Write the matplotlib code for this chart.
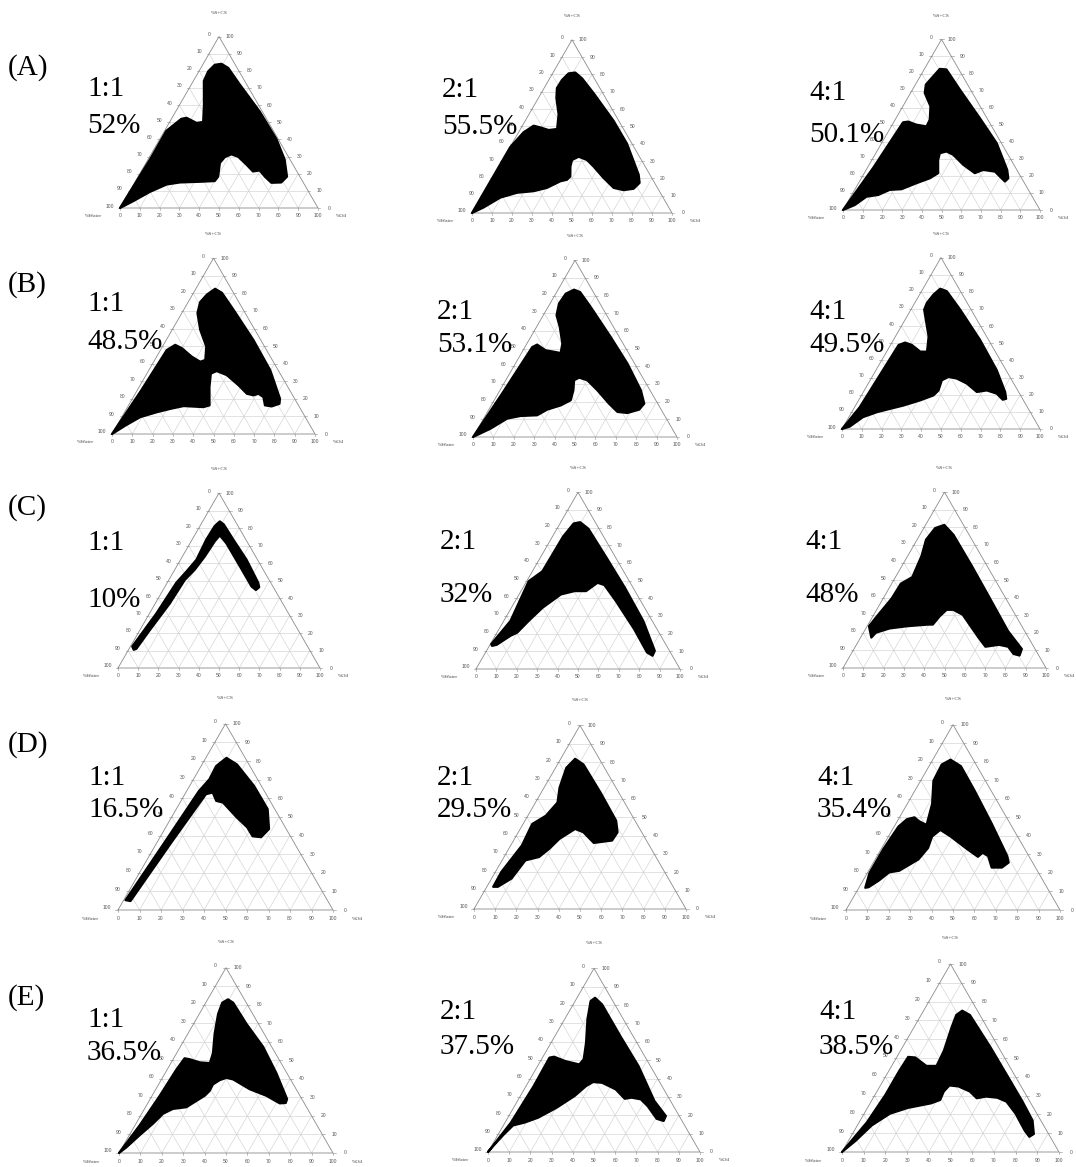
import numpy as np
import matplotlib
matplotlib.use("Agg")
import matplotlib.pyplot as plt

W, H = 1076, 1167

ROW_TAGS = ["(A)", "(B)", "(C)", "(D)", "(E)"]
RATIOS = ["1:1", "2:1", "4:1"]
AREA_PCT = [
    ["52%", "55.5%", "50.1%"],
    ["48.5%", "53.1%", "49.5%"],
    ["10%", "32%", "48%"],
    ["16.5%", "29.5%", "35.4%"],
    ["36.5%", "37.5%", "38.5%"],
]

# boundary of the microemulsion region, (%Oil, %S+CS) pairs
A1_REGION = [(0, 0), (1, 29), (0.9, 45), (5, 52), (7.3, 52.6), (13.9, 49.6), (16.9, 50.2),
             (12.3, 60.2), (5.3, 74.1), (4.7, 79.7), (6.1, 83.5), (9.2, 84.1), (13.8, 81.7),
             (24.4, 72.1), (42.5, 56.2), (58.9, 40.2), (69, 28.3), (75.2, 18.3), (74, 14.9),
             (69.1, 14.7), (64, 18.3), (59.6, 21.9), (56.5, 21.3), (51.2, 25.3), (44.7, 29.9),
             (40.6, 31.3), (38.1, 29.7), (37.3, 26.3), (40.4, 18.3), (40, 15.7), (32.7, 15.3),
             (22.8, 14.9), (16.7, 13.7), (10.4, 9.4), (4.7, 4)]
A2_REGION = [(0, 0), (0.1, 38.1), (2.5, 46.6), (5.6, 50.4), (9.5, 49.4), (14.4, 47.9), (18.3, 48.5),
             (14.8, 57), (9, 66.4), (6.4, 72.1), (6.6, 76.8), (8, 80.6), (11.1, 81.1), (16.2, 77.7),
             (26.2, 69.2), (44.2, 53.2), (57.5, 40), (72.3, 22.1), (75.1, 17.4), (73.8, 14),
             (69.2, 13.2), (63.6, 14.5), (55.7, 20.2), (47.4, 26.8), (42.2, 30.6), (37.1, 32.5),
             (34.7, 30.6), (35.8, 26.8), (38.6, 21.1), (37.9, 19.2), (35, 18.3), (30.2, 14.5),
             (24.5, 12.6), (16.7, 11.7), (9.7, 8.9), (4.2, 3.2)]
A3_REGION = [(0, 0), (3, 25), (4.8, 51.4), (7.2, 51.8), (12.3, 50), (17.9, 49), (17.6, 52.9),
             (14, 60.8), (7.2, 68.6), (5.3, 73.5), (6.6, 78.4), (7.8, 82.7), (11.3, 82.4),
             (24, 70.6), (42.5, 53.9), (58.4, 39.2), (71.6, 23.5), (74.6, 18.6), (73.9, 16.7),
             (71.2, 18.6), (65.9, 22.5), (59.4, 23.5), (56.1, 21.6), (47.8, 26.5), (39.7, 32.4),
             (35.4, 34.3), (32.5, 33.3), (33.6, 29.4), (37.5, 21.6), (34.8, 18.6), (29.4, 15.7),
             (23.6, 12.2), (17.8, 11.8), (13.4, 8.8), (8, 7.8), (4.5, 2.9)]
B1_REGION = [(0, 0), (2, 25), (3.1, 47.8), (5.8, 50.7), (10, 48.8), (17.3, 44), (22.9, 41.1),
             (24.9, 42.1), (21.6, 49.7), (13.8, 59.3), (7.7, 68.8), (5.9, 75), (7.1, 79.3),
             (9.5, 82.6), (14, 80.3), (24.5, 70.7), (42.9, 53.5), (59.8, 36.3), (72.7, 20.1),
             (73.9, 17.2), (70.8, 15.7), (67.2, 16.3), (64.1, 21), (60.7, 22.9), (58.7, 22),
             (55, 22.9), (48.5, 27.7), (39.8, 33.5), (33.7, 35.8), (31.5, 34.4), (34.6, 26.8),
             (39.9, 16.3), (37.4, 15.3), (27.3, 15.9), (21.6, 14.3), (15.9, 12.4), (9.1, 9.6),
             (4.2, 4.8)]
B2_REGION = [(0, 0), (2, 25), (3.6, 50.9), (5.3, 52.3), (11, 49.1), (16.4, 48.1), (19.2, 47.5),
             (17.4, 52.8), (11.4, 62.3), (6.5, 68.9), (4.4, 75.5), (4.9, 81.1), (7.8, 83.4),
             (11.4, 82.1), (20.9, 73.6), (39.2, 56.6), (55, 41.5), (69.1, 26.4), (74.5, 18.9),
             (73.7, 15.5), (68.9, 13.6), (63.7, 14.2), (57.2, 18.9), (47.8, 26.4), (40, 32.1),
             (35.2, 33.6), (33.5, 32.1), (36, 26.4), (37.5, 20.8), (34.1, 17.9), (28.6, 15.5),
             (25.3, 12.3), (17.3, 11.9), (11.5, 10.4), (6.2, 4.7)]
B3_REGION = [(0, 0), (2.6, 12.7), (4.1, 49), (6.7, 50.4), (10.8, 49), (17, 45.1), (20.4, 45.1),
             (16.8, 53.9), (6.7, 69.6), (6.1, 73.5), (7, 78.4), (8.7, 81.8), (12.7, 80.4),
             (24.9, 69.6), (43.7, 52), (61, 34.3), (71.6, 21.6), (74.1, 17.6), (72.6, 17.1),
             (67.9, 20.6), (61.9, 22.5), (57.3, 21.6), (49.8, 26.5), (43.3, 29.4), (38.6, 30.4),
             (36.2, 28.4), (37.5, 22.5), (36.4, 19.6), (31.1, 16.7), (24.2, 13.7), (18.5, 11.8),
             (12.7, 9.8), (7.1, 6.9), (3.2, 1.4)]
C1_REGION = [(0.9, 12.3), (3.4, 31.2), (4.5, 48.8), (6.3, 55.2), (7.9, 61.9), (7, 73.5), (7.3, 81.2),
             (8.5, 83.8), (11.3, 82.1), (20.3, 73.5), (32.7, 61.9), (45, 48.8), (46.8, 46.2),
             (46, 44.6), (42.9, 46.5), (31.3, 58.1), (18.1, 71.2), (12.5, 75.8), (11.7, 72.5),
             (11.1, 63.8), (9.9, 56.2), (7.9, 50.4), (7.2, 36.9), (4.9, 21.5), (3.6, 11),
             (2.6, 10.4)]
C2_REGION = [(0.4, 14.1), (3.3, 27.2), (1, 49.7), (4.9, 55.3), (5.1, 68.5), (5.2, 75), (6.7, 82.4),
             (9.5, 83.1), (15.4, 79.4), (32.6, 62.9), (50, 46), (68.4, 27.2), (82.5, 10.3),
             (82.8, 7.5), (79.1, 9.4), (66.3, 22.5), (49.3, 38.5), (39.2, 47.5), (35.2, 48.8),
             (31.9, 44.1), (26.3, 44.1), (20.5, 42.2), (15.3, 34.7), (12.2, 27.2), (9.9, 20.6),
             (7.5, 18.8), (3.3, 13.7), (1.3, 13.1)]
C3_REGION = [(5.3, 17.3), (0.9, 23.8), (2.2, 30.3), (4.2, 39.6), (4.5, 48), (8.3, 51.7), (6.8, 63.8),
             (4.4, 73), (5.6, 79.6), (9.2, 81.4), (16.5, 75.8), (34.3, 58.2), (52.6, 39.6),
             (70.8, 21), (82.7, 10.8), (83.4, 7.1), (80, 8), (75.3, 12.1), (70.3, 13.2),
             (64.1, 12.1), (58.1, 17.3), (43.8, 30.3), (37.8, 33.1), (34.5, 33.1), (32.9, 29.4),
             (31.9, 24.7), (29.7, 24.7), (20, 23.8), (11.7, 22.5), (6.2, 20.1)]
D1_REGION = [(0.85, 5.3), (3.5, 36.4), (5.7, 63.9), (7.4, 70.2), (7, 77.3), (9.6, 81.7), (16.2, 78.2),
             (30, 66.6), (42.5, 54.2), (48.5, 43.5), (47, 39.1), (42.8, 39.6), (37.9, 44.4),
             (30.4, 49.7), (20, 57.7), (16.4, 58.6), (12.5, 63.1), (9.8, 62.2), (6.7, 36.4),
             (3.4, 4.8)]
D2_REGION = [(3, 12.1), (2.8, 20.2), (5.3, 34.6), (4.3, 46.3), (8.5, 50.8), (10.4, 58), (7.3, 66.1),
             (5.1, 76.9), (6.8, 81.8), (12.3, 78.7), (28, 63.4), (43, 48.1), (46.8, 41.8),
             (46.5, 37.3), (38.5, 36), (30.7, 41.8), (25.9, 43.6), (21.2, 38.2), (19.1, 32.8),
             (16.5, 28.3), (11, 26.5), (9.4, 16.6), (5.2, 12.1)]
D3_REGION = [(3, 12), (1, 20), (1, 33), (2, 45), (4, 49), (7, 50), (10, 48), (14.7, 45.9), (11.6, 57.3),
             (6, 69.7), (5.5, 78.5), (8.3, 81.1), (14.9, 77.6), (27.9, 64.4), (44.7, 46.7),
             (60.8, 29.1), (63.2, 25.6), (61.4, 22.9), (56.6, 22.9), (51.9, 29.1), (48.4, 30.9),
             (47.3, 28.7), (40.6, 32.6), (29, 39.7), (22.5, 43.2), (20.4, 39.7), (21.6, 33.5),
             (20.2, 27.3), (14.3, 21.2), (10, 20.3), (7.4, 15.9), (4.4, 12.3)]
E1_REGION = [(0, 0), (2.2, 15), (3.6, 30.9), (4.3, 45), (5.1, 51.1), (7.7, 50.6), (13.3, 48.9),
             (18.2, 48.5), (17, 53.8), (12.5, 64.4), (8.8, 75), (7.7, 81.1), (9.5, 82.9),
             (12.8, 81.1), (24.7, 69.7), (38.7, 57.3), (51.9, 43.2), (64, 29.1), (64.4, 27),
             (61.7, 26.8), (53.4, 30.9), (43.9, 34.4), (33.5, 39.7), (29.9, 40.6), (27.4, 39.3),
             (25.4, 37), (25.6, 33.5), (24.6, 30.9), (19.1, 24.7), (13.3, 23.8), (10, 21.2),
             (8, 15.9), (4.9, 9.7), (1.9, 3)]
E2_REGION = [(0, 0), (2.8, 16), (3.6, 35.9), (3.3, 51.4), (5.2, 51.9), (11.8, 49.5), (19.2, 47.7),
             (19.9, 50.5), (16.5, 59.5), (10.8, 72.2), (7.3, 82.2), (8.5, 84), (13.6, 80.4),
             (30.8, 63.2), (47.6, 46.8), (64.6, 27.8), (74.1, 19.6), (74.4, 16.9), (70.5, 18.1),
             (62.8, 25), (57.7, 28.7), (52.9, 29.6), (50, 29), (43.2, 34.1), (35, 37.7),
             (30.5, 38.1), (28.3, 35.9), (25.6, 30.5), (20.3, 24.1), (14.3, 18.7), (9.2, 16),
             (4.6, 14.5), (2.7, 9.6), (1.1, 4.2)]
E3_REGION = [(0, 0), (3.6, 15.9), (4.8, 30.4), (4.8, 43), (5.2, 50.6), (8.6, 50.3), (16, 45.8),
             (20.7, 45.8), (20, 53.9), (17.3, 66.5), (16.2, 72.9), (17.8, 75.2), (22.5, 72.9),
             (40.6, 55.7), (57.1, 39.4), (69.8, 26.8), (79.4, 16.8), (83.6, 9.6), (82.3, 8.1),
             (78.5, 11.4), (69.8, 20.4), (62.4, 26.8), (57.1, 28.9), (51.6, 29.5), (47.8, 28.6),
             (42.8, 32.2), (36.2, 34.9), (31.8, 35.4), (30.8, 32.2), (31.4, 27.7), (28.1, 25.9),
             (18.7, 23.5), (11.9, 20.4), (6.6, 14.1), (3.3, 6)]

REGIONS = [[A1_REGION, A2_REGION, A3_REGION],
           [B1_REGION, B2_REGION, B3_REGION],
           [C1_REGION, C2_REGION, C3_REGION],
           [D1_REGION, D2_REGION, D3_REGION],
           [E1_REGION, E2_REGION, E3_REGION]]

# where each triangle sits on the page: (bottom-left x, base y, side) in pixels
TRI_POS = [[(120, 208, 198), (472, 213, 200), (843, 210, 197)],
           [(112, 434, 203), (473, 437, 204), (842, 429, 198)],
           [(118, 668, 202), (476, 669, 204), (843, 668, 203)],
           [(118, 910, 215), (474, 909, 212), (846, 910, 214)],
           [(119, 1153, 214), (488, 1152, 212), (842, 1152, 217)]]
TAG_POS = [(8, 68), (8, 285), (8, 508), (8, 745), (8, 998)]
TEXT_POS = [[(87, 89, 126), (442, 90, 127), (809, 93, 135)],
            [(87, 304, 342), (437, 312, 345), (809, 312, 345)],
            [(87, 543, 600), (440, 542, 595), (805, 542, 595)],
            [(88, 778, 810), (437, 778, 810), (817, 778, 810)],
            [(87, 1020, 1053), (440, 1012, 1047), (819, 1012, 1047)]]

R3 = np.sqrt(3) / 2
SERIF = "Liberation Serif"
SANS = "Liberation Sans"


def txy(oil, scs):
    oil = np.asarray(oil, dtype=float)
    scs = np.asarray(scs, dtype=float)
    return oil + scs / 2, scs * R3


def ternary_panel(fig, pos, region):
    x0, base, side = pos
    s = side / 100.0
    xl, xr, yb, yt = -25, 125, -15, 105
    left = (x0 + xl * s) / W
    bottom = 1 - (base - yb * s) / H
    ax = fig.add_axes([left, bottom, (xr - xl) * s / W, (yt - yb) * s / H])
    ax.set_xlim(xl, xr)
    ax.set_ylim(yb, yt)
    ax.axis("off")

    grid_kw = dict(color="#d2d2d2", lw=0.45, zorder=1)
    for k in range(10, 100, 10):
        ax.plot(*txy([0, 100 - k], [k, k]), **grid_kw)
        ax.plot(*txy([k, k], [0, 100 - k]), **grid_kw)
        ax.plot(*txy([100 - k, 0], [0, 100 - k]), **grid_kw)
    ax.plot(*txy([0, 100, 0, 0], [0, 0, 100, 0]), color="#8a8a8a", lw=0.6, zorder=2)

    tk = dict(fontsize=3.6, color="#555555", family=SANS)
    for k in range(0, 101, 10):
        # bottom: %Oil
        bx, by = txy(k, 0)
        ax.plot([bx, bx], [by, by - 1.0], color="#8a8a8a", lw=0.4)
        ax.text(bx, by - 3.8, str(k), ha="center", va="center", **tk)
        # left: %Water
        lx, ly = txy(0, 100 - k)
        ax.plot([lx, lx - 1.2], [ly, ly], color="#8a8a8a", lw=0.4)
        ax.text(lx - 5, ly + 1, str(k), ha="center", va="center", **tk)
        # right: %S+CS
        rx, ry = txy(100 - k, k)
        ax.plot([rx, rx + 1.2], [ry, ry], color="#8a8a8a", lw=0.4)
        ax.text(rx + 5.5, ry, str(k), ha="center", va="center", **tk)
    lab = dict(fontsize=3.9, color="#444444", family=SERIF)
    ax.text(50, 86.6 + 12, "%S+CS", ha="center", va="center", **lab)
    ax.text(-9, -4, "%Water", ha="right", va="center", **lab)
    ax.text(109, -4, "%Oil", ha="left", va="center", **lab)

    oil = [p[0] for p in region]
    scs = [p[1] for p in region]
    px, py = txy(oil, scs)
    ax.fill(px, py, facecolor="black", edgecolor="black", lw=1.6, joinstyle="round", zorder=3)


fig = plt.figure(figsize=(W / 100, H / 100), dpi=100)
fig.patch.set_facecolor("white")

for r in range(5):
    tx, ty = TAG_POS[r]
    fig.text(tx / W, 1 - ty / H, ROW_TAGS[r], family=SERIF, fontsize=21, ha="left", va="center")
    for c in range(3):
        ternary_panel(fig, TRI_POS[r][c], REGIONS[r][c])
        lx, y1, y2 = TEXT_POS[r][c]
        fig.text(lx / W, 1 - y1 / H, RATIOS[c], family=SERIF, fontsize=21, ha="left", va="center")
        fig.text(lx / W, 1 - y2 / H, AREA_PCT[r][c], family=SERIF, fontsize=21, ha="left", va="center")

fig.savefig("out.png", dpi=100)
